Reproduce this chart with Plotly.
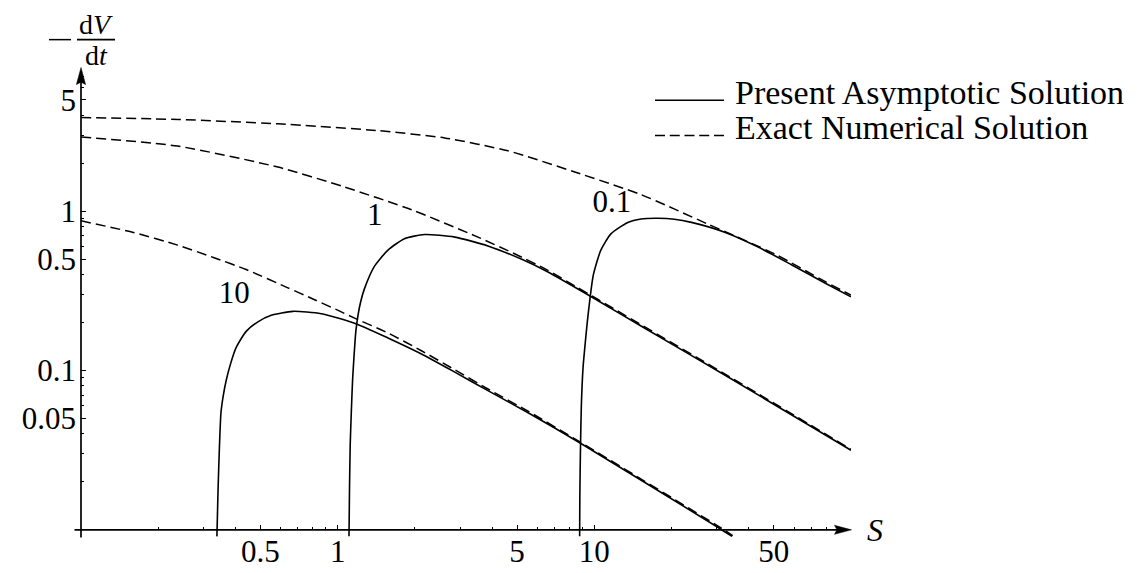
import plotly.graph_objects as go

# asymptotic (solid) curves, labelled by parameter value
s_asym_01 = [8.765, 8.78, 8.83, 8.9, 9.04, 9.18, 9.45, 9.89, 10.2, 10.6, 11.6, 13.5, 15.2, 17.7, 20.5, 23.9, 32.2, 43.5, 58.6, 79.1, 100]
v_asym_01 = [0.0091, 0.016, 0.032, 0.06, 0.105, 0.139, 0.222, 0.391, 0.472, 0.569, 0.72, 0.849, 0.893, 0.902, 0.89, 0.85, 0.738, 0.595, 0.461, 0.354, 0.29]

s_asym_1 = [1.107, 1.112, 1.119, 1.13, 1.143, 1.153, 1.164, 1.177, 1.2, 1.228, 1.27, 1.39, 1.57, 1.82, 2.18, 2.86, 3.85, 5.19, 6.6, 10.3, 15.2, 33.2, 100]
v_asym_1 = [0.0091, 0.018, 0.0339, 0.0543, 0.0869, 0.11, 0.139, 0.176, 0.222, 0.268, 0.324, 0.45, 0.569, 0.671, 0.713, 0.687, 0.605, 0.50, 0.415, 0.275, 0.19, 0.091, 0.0316]

s_asym_10 = [0.3385, 0.342, 0.3464, 0.351, 0.3578, 0.368, 0.3825, 0.402, 0.44, 0.489, 0.551, 0.669, 0.863, 1.164, 1.57, 2.12, 2.86, 3.85, 5.52, 8.9, 30.8, 34.4]
v_asym_10 = [0.0091, 0.018, 0.0339, 0.0543, 0.0686, 0.0869, 0.11, 0.139, 0.176, 0.202, 0.222, 0.235, 0.227, 0.198, 0.160, 0.127, 0.0977, 0.0747, 0.0543, 0.0347, 0.0102, 0.0091]

# exact numerical (dashed) curves
s_num_01 = [0.1, 0.24, 0.585, 1.44, 2.61, 4.61, 8.39, 15.2, 27.7, 50.5, 79.1, 100]
v_num_01 = [3.87, 3.76, 3.53, 3.20, 2.88, 2.39, 1.76, 1.27, 0.829, 0.538, 0.362, 0.297]

s_num_1 = [0.1, 0.238, 0.585, 1.06, 1.94, 3.52, 4.89, 6.6, 8.5, 10.3, 33.2, 100]
v_num_1 = [2.92, 2.56, 1.89, 1.42, 1.02, 0.687, 0.54, 0.425, 0.335, 0.28, 0.0925, 0.032]

s_num_10 = [0.1, 0.16, 0.238, 0.33, 0.44, 0.64, 0.813, 1.0, 1.164, 1.57, 2.12, 2.86, 3.85, 5.52, 8.9, 30.8, 34.6]
v_num_10 = [0.869, 0.735, 0.612, 0.51, 0.43, 0.33, 0.278, 0.239, 0.213, 0.172, 0.133, 0.101, 0.0765, 0.0555, 0.0352, 0.0104, 0.0092]

curve_labels = ["0.1", "1", "10"]
label_s = [11.7, 1.396, 0.395]
label_v = [1.10, 0.915, 0.296]

x_major = [0.5, 1, 5, 10, 50]
x_minor = [0.2, 0.3, 0.4, 0.6, 0.7, 0.8, 0.9, 2, 3, 4, 6, 7, 8, 9, 20, 30, 40, 60, 70, 80, 90]
y_major = [0.05, 0.1, 0.5, 1, 5]
y_minor = [0.02, 0.03, 0.04, 0.06, 0.07, 0.08, 0.09, 0.2, 0.3, 0.4, 0.6, 0.7, 0.8, 0.9, 2, 3, 4, 6, 7]

legend_names = ["Present Asymptotic Solution", "Exact Numerical Solution"]

FONT = "Liberation Serif"
W, H = 1144, 573
L, R, T, B = 73, 301, 59, 33


def px(x):
    return (x - L) / (W - L - R)


def py(y):
    return (H - B - y) / (H - T - B)


fig = go.Figure()

solid = dict(color="black", width=1.6, shape="spline", smoothing=0.6)
dashed = dict(color="black", width=1.5, dash="10px,5px", shape="spline", smoothing=0.6)

for s, v in [(s_asym_01, v_asym_01), (s_asym_1, v_asym_1), (s_asym_10, v_asym_10)]:
    fig.add_trace(go.Scatter(x=s, y=v, mode="lines", line=solid, showlegend=False, hoverinfo="skip"))
for s, v in [(s_num_01, v_num_01), (s_num_1, v_num_1), (s_num_10, v_num_10)]:
    fig.add_trace(go.Scatter(x=s, y=v, mode="lines", line=dashed, showlegend=False, hoverinfo="skip"))

fig.add_trace(go.Scatter(
    x=label_s, y=label_v, mode="text", text=curve_labels,
    textfont=dict(family=FONT, size=31, color="black"),
    showlegend=False, hoverinfo="skip"))

ymin_log = -2.045
ymax_log = 0.9045
axis_pos = (-2 - ymin_log) / (ymax_log - ymin_log)

tick_font = dict(family=FONT, size=31, color="black")
fig.update_xaxes(
    type="log", range=[-1, 2], tickvals=x_major, ticktext=[str(v) for v in x_major],
    ticks="inside", ticklen=5, tickwidth=1, tickcolor="black",
    minor=dict(tickvals=x_minor, ticks="inside", ticklen=3, tickwidth=1, tickcolor="black", showgrid=False),
    showgrid=False, zeroline=False, showline=False,
    anchor="free", position=axis_pos, tickfont=tick_font,
)
fig.update_yaxes(
    type="log", range=[ymin_log, ymax_log], tickvals=y_major, ticktext=[str(v) for v in y_major],
    ticks="inside", ticklen=5, tickwidth=1, tickcolor="black",
    minor=dict(tickvals=y_minor, ticks="inside", ticklen=3, tickwidth=1, tickcolor="black", showgrid=False),
    showgrid=False, zeroline=False, showline=False,
    ticklabelstandoff=4, tickfont=tick_font,
)

ax_y = H - B - axis_pos * (H - T - B)
shapes = [
    # axes
    dict(type="line", xref="paper", yref="paper", x0=px(66.5), x1=px(830), y0=py(ax_y), y1=py(ax_y),
         line=dict(color="black", width=1.7)),
    dict(type="line", xref="paper", yref="paper", x0=px(73), x1=px(73), y0=py(540.5), y1=py(72),
         line=dict(color="black", width=1.7)),
    # arrow heads
    dict(type="path", xref="paper", yref="paper", fillcolor="black", line=dict(color="black", width=0.5),
         path=f"M{px(843.5)},{py(ax_y)} L{px(826.5)},{py(ax_y - 4.6)} L{px(829)},{py(ax_y)} L{px(826.5)},{py(ax_y + 4.6)} Z"),
    dict(type="path", xref="paper", yref="paper", fillcolor="black", line=dict(color="black", width=0.5),
         path=f"M{px(73)},{py(59.5)} L{px(68.4)},{py(77)} L{px(73)},{py(74.5)} L{px(77.6)},{py(77)} Z"),
    # y label fraction bar and minus sign
    dict(type="line", xref="paper", yref="paper", x0=px(69), x1=px(107), y0=py(31), y1=py(31),
         line=dict(color="black", width=1.8)),
    dict(type="line", xref="paper", yref="paper", x0=px(41), x1=px(63), y0=py(31), y1=py(31),
         line=dict(color="black", width=1.5)),
    # legend samples
    dict(type="line", xref="paper", yref="paper", x0=px(647), x1=px(716), y0=py(93), y1=py(93),
         line=dict(color="black", width=1.6)),
    dict(type="line", xref="paper", yref="paper", x0=px(647), x1=px(716), y0=py(129), y1=py(129),
         line=dict(color="black", width=1.5, dash="10px,4.75px")),
]

frac_font = dict(family=FONT, size=28, color="black")
annotations = [
    dict(text="d<i>V</i>", x=px(88), y=py(15), xref="paper", yref="paper", showarrow=False, height=28,
         font=frac_font, xanchor="center", yanchor="middle", borderpad=0),
    dict(text="d<i>t</i>", x=px(88), y=py(46.5), xref="paper", yref="paper", showarrow=False, height=28,
         font=frac_font, xanchor="center", yanchor="middle", borderpad=0),
    dict(text="<i>S</i>", x=px(858), y=py(533), xref="paper", yref="paper", showarrow=False,
         font=dict(family=FONT, size=32, color="black"), xanchor="left", yanchor="middle", borderpad=0),
    dict(text=legend_names[0], x=px(726), y=py(85.5), xref="paper", yref="paper", showarrow=False,
         font=dict(family=FONT, size=34, color="black"), xanchor="left", yanchor="middle", borderpad=0),
    dict(text=legend_names[1], x=px(726), y=py(121.4), xref="paper", yref="paper", showarrow=False,
         font=dict(family=FONT, size=34, color="black"), xanchor="left", yanchor="middle", borderpad=0),
]

fig.update_layout(
    width=W, height=H,
    margin=dict(l=L, r=R, t=T, b=B, pad=0),
    paper_bgcolor="white", plot_bgcolor="white",
    shapes=shapes, annotations=annotations,
    showlegend=False,
)

fig.write_html("out.html")
